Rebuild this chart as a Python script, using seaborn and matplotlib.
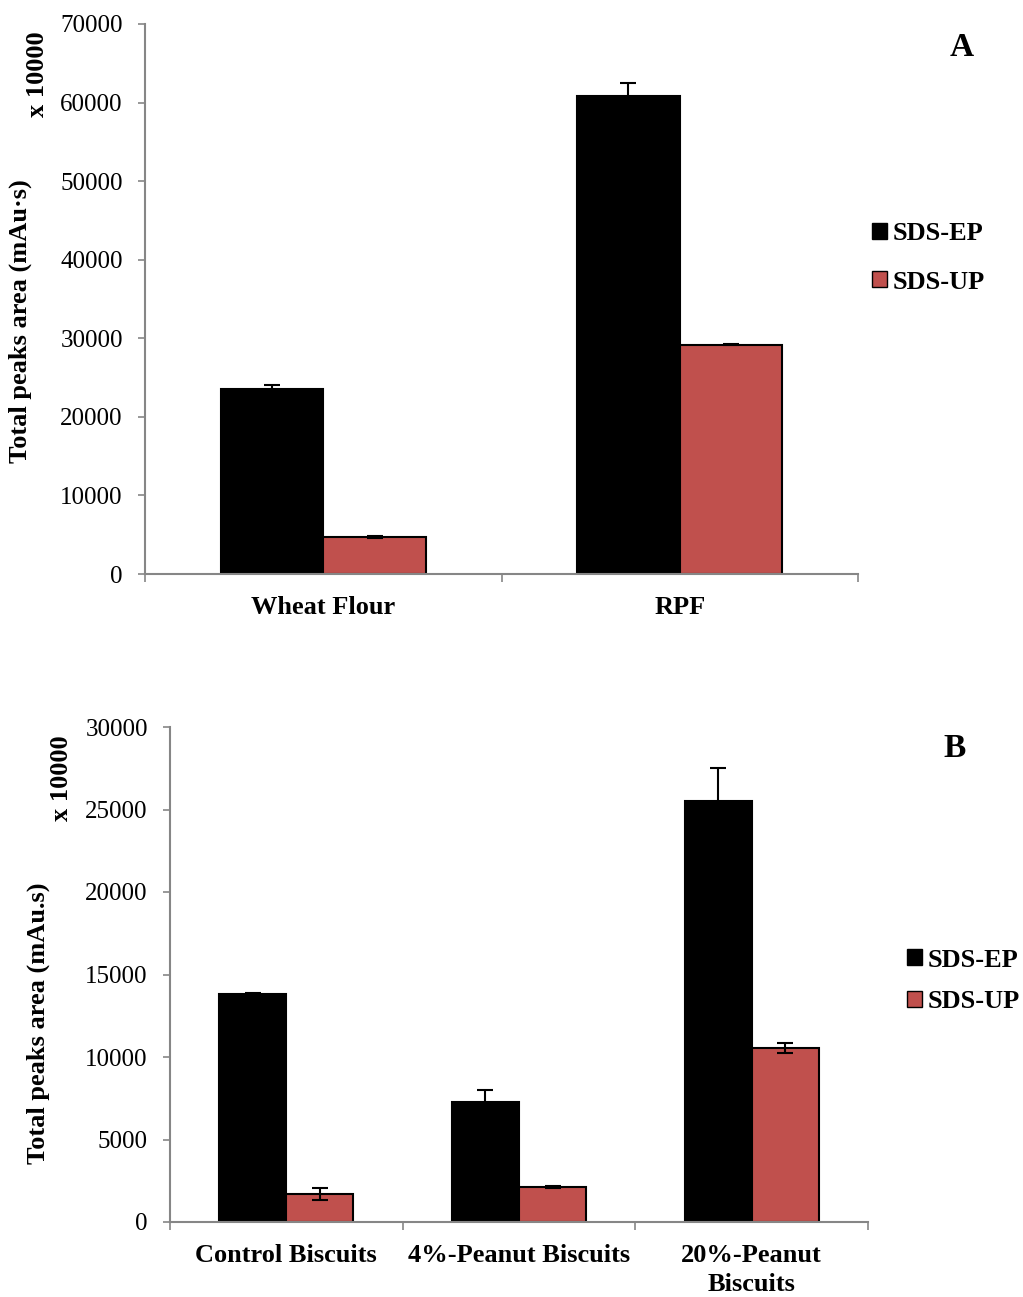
import numpy as np
import pandas as pd
import matplotlib
matplotlib.use("Agg")
import matplotlib.pyplot as plt
import seaborn as sns
from matplotlib.patches import Patch

# ---- data ----
series = ["SDS-EP", "SDS-UP"]
colors = ["#000000", "#C0504D"]

cats_a = ["Wheat Flour", "RPF"]
ep_a = [23500, 60800]
up_a = [4700, 29200]
ep_a_err = [600, 1650]
up_a_err = [150, 100]

cats_b = ["Control Biscuits", "4%-Peanut Biscuits", "20%-Peanut\nBiscuits"]
ep_b = [13800, 7300, 25500]
up_b = [1700, 2100, 10550]
ep_b_err = [60, 700, 2000]
up_b_err = [350, 60, 300]

sns.set_theme(style="white")
plt.rcParams['font.family'] = ['Liberation Serif', 'DejaVu Serif']
plt.rcParams['text.color'] = 'black'
plt.rcParams['axes.labelcolor'] = 'black'
plt.rcParams['xtick.labelcolor'] = 'black'
plt.rcParams['ytick.labelcolor'] = 'black'

fig = plt.figure(figsize=(10.23, 12.97), dpi=100)
axA = fig.add_axes([145/1023, 1-574/1297, (858-145)/1023, (574-24)/1297])
axB = fig.add_axes([170/1023, 1-1222/1297, (868-170)/1023, (1222-727)/1297])

GRAY = "#868686"

def panel(ax, cats, ep, up, ep_err, up_err, ymax, ystep, letter, letter_xy, leg_anchor, lspace):
    df = pd.DataFrame({
        "cat": list(cats) * 2,
        "series": [series[0]] * len(cats) + [series[1]] * len(cats),
        "val": list(ep) + list(up),
        "err": list(ep_err) + list(up_err),
    })
    sns.barplot(data=df, x="cat", y="val", hue="series", palette=colors,
                width=0.576, edgecolor="black", linewidth=1.5, ax=ax,
                errorbar=None, legend=False, saturation=1)
    bars = [p for p in ax.patches]
    for p, e in zip(bars, df["err"]):
        xc = p.get_x() + p.get_width() / 2
        h = p.get_height()
        ax.errorbar(xc, h, yerr=e, fmt="none", ecolor="black", elinewidth=1.5,
                    capsize=6, capthick=1.5, zorder=5)
    n = len(cats)
    ax.set_xlim(-0.5, n - 0.5)
    ax.set_ylim(0, ymax)
    ticks = np.arange(0, ymax + 1, ystep)
    ax.set_yticks(ticks)
    ax.set_yticklabels([f"{int(v)}" for v in ticks], fontsize=18)
    ax.set_xticks(range(n))
    ax.set_xticklabels(cats, fontsize=19, fontweight="bold", linespacing=1.3)
    ax.set_xticks(np.arange(-0.5, n, 1.0), minor=True)
    ax.tick_params(axis="x", which="major", length=0, pad=16)
    ax.tick_params(axis="x", which="minor", length=6, width=1.2, color=GRAY, direction="out")
    ax.tick_params(axis="y", which="major", length=5, width=1.2, color=GRAY, direction="out", pad=11)
    ax.yaxis.set_ticks_position("left")
    ax.xaxis.set_ticks_position("bottom")
    for s in ["top", "right"]:
        ax.spines[s].set_visible(False)
    for s in ["left", "bottom"]:
        ax.spines[s].set_color(GRAY)
        ax.spines[s].set_linewidth(1.5)
    ax.set_xlabel("")
    ax.set_ylabel("")
    handles = [Patch(facecolor=c, edgecolor="black", linewidth=1.0, label=s) for s, c in zip(series, colors)]
    fig.legend(handles=handles, loc="center left", bbox_to_anchor=leg_anchor,
               bbox_transform=fig.transFigure, frameon=False, borderpad=0,
               borderaxespad=0,
               prop={"family": "Liberation Serif", "weight": "bold", "size": 19},
               handlelength=0.55, handleheight=0.55, handletextpad=0.25, labelspacing=lspace)
    fig.text(letter_xy[0] / 1023, 1 - letter_xy[1] / 1297, letter, fontsize=24,
             fontweight="bold", ha="center", va="center")

panel(axA, cats_a, ep_a, up_a, ep_a_err, up_a_err, 70000, 10000,
      "A", (962, 47), (872/1023, 1 - 258/1297), 0.96)
panel(axB, cats_b, ep_b, up_b, ep_b_err, up_b_err, 30000, 5000,
      "B", (955, 749), (907/1023, 1 - 981/1297), 0.70)

# y-axis labels as separate rotated texts (as in the reference)
fig.text(20/1023, 1 - 321/1297, "Total peaks area (mAu·s)", rotation=90, fontsize=19,
         fontweight="bold", ha="center", va="center")
fig.text(37/1023, 1 - 74/1297, "x 10000", rotation=90, fontsize=19,
         fontweight="bold", ha="center", va="center")
fig.text(38/1023, 1 - 1023/1297, "Total peaks area (mAu.s)", rotation=90, fontsize=19,
         fontweight="bold", ha="center", va="center")
fig.text(62/1023, 1 - 778/1297, "x 10000", rotation=90, fontsize=19,
         fontweight="bold", ha="center", va="center")

fig.savefig("out.png", dpi=100, facecolor="white")
